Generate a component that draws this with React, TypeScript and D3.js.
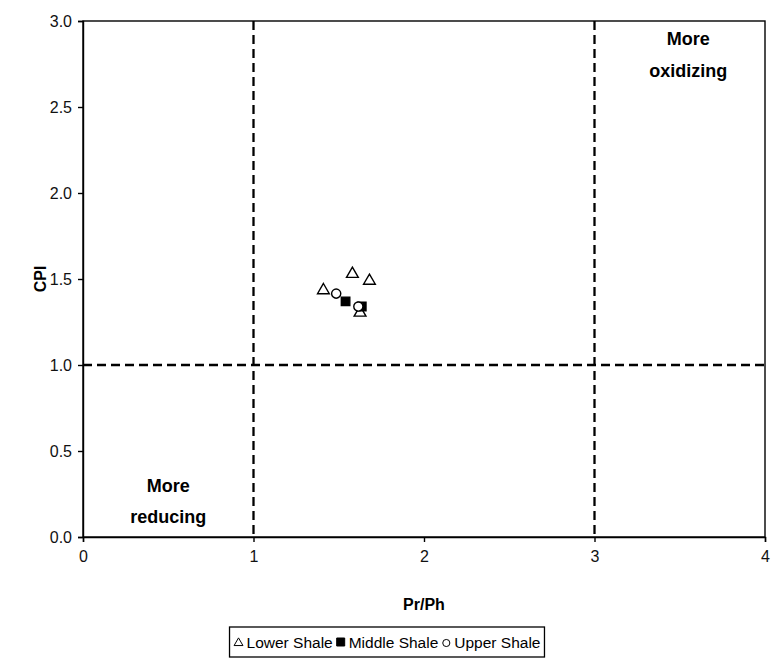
import * as d3 from "d3";
import { useEffect, useRef } from "react";

// Pr/Ph vs CPI values
const lowerPrPh = [1.41, 1.58, 1.68, 1.625];
const lowerCPI = [1.44, 1.535, 1.495, 1.31];
const middlePrPh = [1.54, 1.635];
const middleCPI = [1.37, 1.34];
const upperPrPh = [1.485, 1.615];
const upperCPI = [1.415, 1.34];

const xTicks = [0, 1, 2, 3, 4];
const yTicks = [0, 0.5, 1, 1.5, 2, 2.5, 3];
const vLines = [1, 3];
const hLines = [1];
const legendNames = ["Lower Shale", "Middle Shale", "Upper Shale"];

const W = 771;
const H = 671;
const FONT = "Liberation Sans, Arial, sans-serif";

const App = () => {
    const chartRef = useRef<SVGSVGElement>(null);

    useEffect(() => {
        const svg = d3.select(chartRef.current);
        svg.selectAll("*").remove();

        const margin = { top: 21, bottom: 134, left: 83, right: 6 };
        const boundsWidth = W - margin.left - margin.right;
        const boundsHeight = H - margin.top - margin.bottom;

        const scaleX = d3.scaleLinear().domain([0, 4]).range([0, boundsWidth]);
        const scaleY = d3.scaleLinear().domain([0, 3]).range([boundsHeight, 0]);

        const g = svg.append("g")
            .attr("transform", `translate(${margin.left}, ${margin.top})`);

        // рамка
        g.append("rect")
            .attr("width", boundsWidth)
            .attr("height", boundsHeight)
            .attr("fill", "white")
            .attr("stroke", "black")
            .attr("stroke-width", 1.4);

        // оси
        const xAxis = g.append("g")
            .attr("transform", `translate(0, ${boundsHeight})`)
            .call(d3.axisBottom(scaleX).tickValues(xTicks).tickFormat(d3.format("d")).tickSize(5).tickPadding(9));
        const yAxis = g.append("g")
            .call(d3.axisLeft(scaleY).tickValues(yTicks).tickFormat(d3.format(".1f")).tickSize(5).tickPadding(6));
        [xAxis, yAxis].forEach(a => {
            a.attr("font-size", 16).attr("font-family", FONT);
            a.select(".domain").attr("stroke-width", 1.4);
            a.selectAll("line").attr("stroke-width", 1.4);
            a.selectAll("text").attr("fill", "#111");
        });

        // пунктирные линии
        g.selectAll(".vline")
            .data(vLines)
            .enter()
            .append("line")
            .attr("x1", d => scaleX(d))
            .attr("x2", d => scaleX(d))
            .attr("y1", 0)
            .attr("y2", boundsHeight)
            .attr("stroke", "black")
            .attr("stroke-width", 2.3)
            .attr("stroke-dasharray", "9,5");
        g.selectAll(".hline")
            .data(hLines)
            .enter()
            .append("line")
            .attr("x1", 0)
            .attr("x2", boundsWidth)
            .attr("y1", d => scaleY(d))
            .attr("y2", d => scaleY(d))
            .attr("stroke", "black")
            .attr("stroke-width", 2.3)
            .attr("stroke-dasharray", "9,5");

        // подписи областей
        const bold = (x: number, y: number, t: string) =>
            g.append("text")
                .attr("x", x)
                .attr("y", y)
                .attr("text-anchor", "middle")
                .attr("font-family", FONT)
                .attr("font-weight", "bold")
                .attr("font-size", 18)
                .text(t);
        bold(scaleX(3.55), 24, "More");
        bold(scaleX(3.55), 56, "oxidizing");
        bold(scaleX(0.5), scaleY(0.3) + 7, "More");
        bold(scaleX(0.5), scaleY(0.12) + 7, "reducing");

        // маркеры
        const tri = d3.symbol().type(d3.symbolTriangle).size(60);
        const sq = d3.symbol().type(d3.symbolSquare).size(72);
        const circ = d3.symbol().type(d3.symbolCircle).size(66);

        const drawPoints = (xs: number[], ys: number[], path: string, fill: string, dy: number) => {
            g.append("g")
                .selectAll("path")
                .data(xs.map((x, i) => [x, ys[i]]))
                .enter()
                .append("path")
                .attr("d", path)
                .attr("transform", d => `translate(${scaleX(d[0])}, ${scaleY(d[1]) + dy})`)
                .attr("fill", fill)
                .attr("stroke", "black")
                .attr("stroke-width", 1.4);
        };
        drawPoints(lowerPrPh, lowerCPI, tri()!, "white", 1);
        drawPoints(middlePrPh, middleCPI, sq()!, "black", 0);
        drawPoints(upperPrPh, upperCPI, circ()!, "white", 0);

        // названия осей
        svg.append("text")
            .attr("x", margin.left + boundsWidth / 2)
            .attr("y", 610)
            .attr("text-anchor", "middle")
            .attr("font-family", FONT)
            .attr("font-weight", "bold")
            .attr("font-size", 16)
            .text("Pr/Ph");
        svg.append("text")
            .attr("transform", `translate(46, ${margin.top + boundsHeight / 2}) rotate(-90)`)
            .attr("text-anchor", "middle")
            .attr("font-family", FONT)
            .attr("font-weight", "bold")
            .attr("font-size", 16)
            .text("CPI");

        // легенда
        const lg = svg.append("g");
        const box = lg.append("rect")
            .attr("height", 30)
            .attr("fill", "white")
            .attr("stroke", "black")
            .attr("stroke-width", 1.3);
        const marks = [
            { path: d3.symbol().type(d3.symbolTriangle).size(34)()!, fill: "white", dy: 16 },
            { path: d3.symbol().type(d3.symbolSquare).size(64)()!, fill: "black", dy: 15 },
            { path: d3.symbol().type(d3.symbolCircle).size(40)()!, fill: "white", dy: 16 },
        ];
        let cx = 5;
        legendNames.forEach((name, i) => {
            const it = marks[i];
            lg.append("path")
                .attr("d", it.path)
                .attr("transform", `translate(${cx + 4}, ${it.dy})`)
                .attr("fill", it.fill)
                .attr("stroke", "black")
                .attr("stroke-width", 1);
            const t = lg.append("text")
                .attr("x", cx + 12)
                .attr("y", 21)
                .attr("font-family", FONT)
                .attr("font-size", 15.5)
                .text(name);
            const w = (t.node() as SVGTextElement).getComputedTextLength();
            cx += 12 + w + 4;
        });
        box.attr("width", cx);
        lg.attr("transform", `translate(${387 - cx / 2}, 627)`);
    }, []);

    return (
        <svg ref={chartRef} width={W} height={H} style={{ display: "block", position: "absolute", left: 0, top: 0 }}></svg>
    );
};

export default App;
